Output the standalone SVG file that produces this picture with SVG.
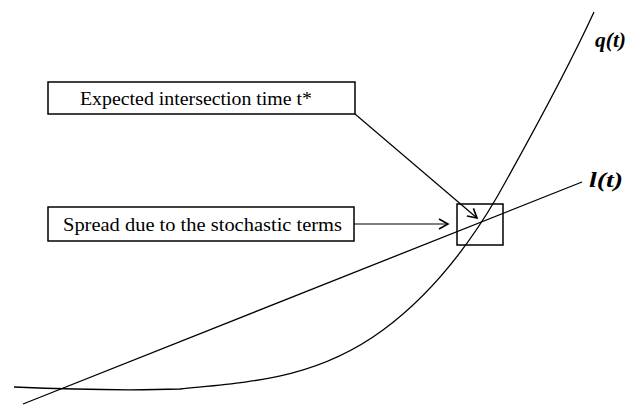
<svg xmlns="http://www.w3.org/2000/svg" width="626" height="405" viewBox="0 0 626 405">
  <style>
    .box { fill: #fff; stroke: #000; stroke-width: 1.5; }
    .curve { fill: none; stroke: #000; stroke-width: 1.3; }
    .conn { fill: none; stroke: #000; stroke-width: 1.2; }
    .lbl { font-family: "Liberation Serif", "Times New Roman", serif; font-size: 19px; fill: #000; }
    .fn { font-family: "Liberation Serif", "Times New Roman", serif; font-size: 21px; font-weight: bold; font-style: italic; fill: #000; }
  </style>
  <defs>
    <marker id="open-arrow" viewBox="-11 -7 13 14" markerWidth="13" markerHeight="14" refX="0" refY="0" orient="auto" markerUnits="userSpaceOnUse">
      <path d="M-9,-5 L0,0 L-9,5" fill="none" stroke="#000" stroke-width="1.6"/>
    </marker>
  </defs>
  <rect width="626" height="405" fill="#fff"/>

  <!-- curves -->
  <g id="curves">
    <path id="q-curve" class="curve" d="M14,387 C60,389 120,391 180,389 C248,382 315,380 383,330 C421,302 459,262 497,197 C529,140 565,75 594,12"/>
    <line id="l-line" class="curve" x1="23" y1="404" x2="582" y2="182"/>
  </g>

  <g id="intersection-box">
    <rect x="457" y="204" width="46" height="41" fill="none" stroke="#000" stroke-width="1.5"/>
  </g>

  <g id="expected-time">
    <rect class="box" x="48" y="82" width="307" height="32"/>
    <text class="lbl" x="80" y="105" textLength="232" lengthAdjust="spacingAndGlyphs">Expected intersection time t*</text>
  </g>

  <g id="spread">
    <rect class="box" x="48" y="207" width="306" height="34"/>
    <text class="lbl" x="63" y="231" textLength="279" lengthAdjust="spacingAndGlyphs">Spread due to the stochastic terms</text>
  </g>

  <g id="connectors">
    <line class="conn" x1="355" y1="114" x2="477" y2="218" marker-end="url(#open-arrow)"/>
    <line class="conn" x1="354" y1="224" x2="448" y2="224" marker-end="url(#open-arrow)"/>
  </g>

  <g id="labels">
    <text class="fn" x="595" y="47" textLength="31" lengthAdjust="spacingAndGlyphs">q(t)</text>
    <text class="fn" x="589" y="187" textLength="34" lengthAdjust="spacingAndGlyphs">l(t)</text>
  </g>
</svg>
